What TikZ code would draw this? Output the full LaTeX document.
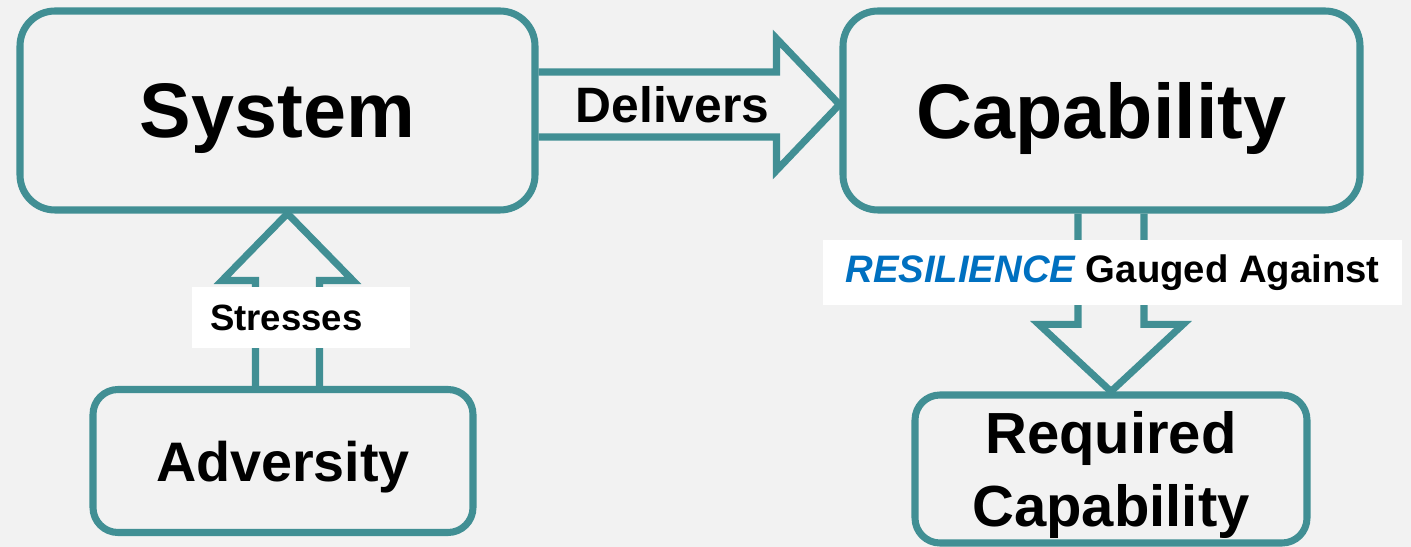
\documentclass[tikz,border=0pt]{standalone}
\usepackage{fontspec}
\setmainfont{Liberation Sans}
\usetikzlibrary{calc}
\definecolor{frame}{RGB}{65,143,148}
\definecolor{canvas}{RGB}{242,242,242}
\definecolor{resblue}{RGB}{0,112,192}

\tikzset{
	block/.style={draw=frame, line width=4pt, rounded corners=0.7cm, align=center, text depth=0pt, font=\bfseries\fontsize{44}{52}\selectfont},
	smallblock/.style={block, rounded corners=0.5cm},
	fatarrow/.style={draw=frame, line width=4pt},
	tag/.style={fill=white, inner ysep=0pt, font=\bfseries\fontsize{21.8}{26}\selectfont}
}

\begin{document}
\begin{tikzpicture}
		\fill[canvas] (0,0) rectangle (28.22,10.94);
		\useasboundingbox (0,0) rectangle (28.22,10.94);

		% boxes
		\node[block, minimum width=10.3cm, minimum height=3.98cm] (sys) at (5.55,8.73) {System};
		\node[block, minimum width=10.34cm, minimum height=3.98cm] (cap) at (22.03,8.73) {Capability};
		\node[smallblock, minimum width=7.6cm, minimum height=2.86cm, font=\bfseries\fontsize{31.7}{38}\selectfont] (adv) at (5.66,1.72) {Adversity};
		\node[smallblock, minimum width=7.84cm, minimum height=2.96cm, font=\bfseries\fontsize{33}{41.4}\selectfont] (req) at (22.22,1.56) {Required\\Capability};

		% hollow block arrows
		\coordinate (dtip) at ($(cap.west)+(0,0.12)$);
		\draw[fatarrow] ($(sys.east |- dtip)+(0,0.65)$) -- ($(dtip)+(-1.26,0.65)$) -- ++(0,0.67) -- (dtip) -- ($(dtip)+(-1.26,-1.32)$) -- ++(0,0.67) -- ($(sys.east |- dtip)+(0,-0.65)$);
		\coordinate (stip) at ($(sys.south)+(0.2,0)$);
		\draw[fatarrow] ($(stip |- adv.north)+(-0.64,0)$) -- ($(stip)+(-0.64,-1.34)$) -- ++(-0.67,0) -- (stip) -- ($(stip)+(1.31,-1.34)$) -- ++(-0.67,0) -- ($(stip |- adv.north)+(0.64,0)$);
		\draw[fatarrow] ($(req.north |- cap.south)+(-0.66,0)$) -- ($(req.north)+(-0.66,1.34)$) -- ++(-0.78,0) -- (req.north) -- ($(req.north)+(1.44,1.34)$) -- ++(-0.78,0) -- ($(req.north |- cap.south)+(0.66,0)$);

		% arrow labels
		\node[font=\bfseries\fontsize{28.3}{34}\selectfont] (deliv) at ($(sys.east |- dtip)!0.445!(dtip)$) {Delivers};
		\node[tag, inner xsep=0.36cm, text width=3.64cm, minimum height=1.22cm, align=left, font=\bfseries\fontsize{20.8}{25}\selectfont] (stress) at (6.02,4.59) {Stresses};
		\node[tag, minimum width=11.58cm, minimum height=1.3cm] (gauge) at (22.25,5.49) {{\itshape\color{resblue}RESILIENCE} Gauged Against};
\end{tikzpicture}
\end{document}
